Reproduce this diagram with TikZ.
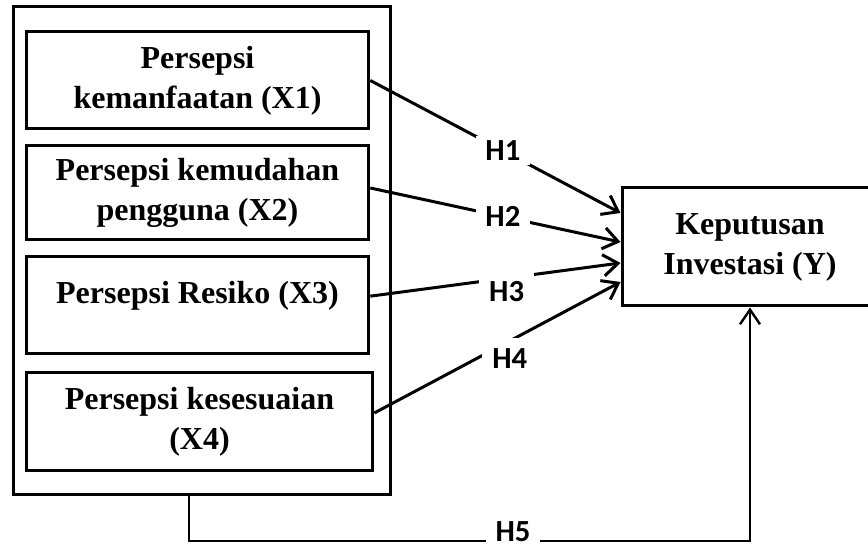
\documentclass[tikz,border=0pt]{standalone}
\usepackage{fontspec}
\setmainfont{Liberation Serif}
\newfontfamily\hfont{Carlito}
\usetikzlibrary{arrows.meta}

\begin{document}
\begin{tikzpicture}[line join=miter,x=0.75pt,y=-0.75pt,
	varbox/.style={draw,line width=2.25pt,minimum width=257pt,minimum height=72.75pt,inner sep=0pt,align=center,font=\fontsize{24}{30}\selectfont\bfseries},
	hyp/.style={line width=2.25pt,-{Straight Barb[length=11pt,width=16pt,line width=2.25pt]}},
	hfive/.style={line width=1.5pt,-{Straight Barb[length=11pt,width=15pt,line width=1.8pt]}},
	hlab/.style={fill=white,inner sep=0pt,minimum width=41pt,minimum height=22pt,font=\hfont\fontsize{23}{23}\selectfont\bfseries}]
	\useasboundingbox (0,0) rectangle (868,552);
	\clip (0,0) rectangle (868,552);
	% variabel bebas
	\node[varbox,minimum width=282.75pt,minimum height=365.25pt] (outer) at (201.5,250.5) {};
	\node[varbox] (x1) at (197.5,80.5) {Persepsi\\kemanfaatan (X1)};
	\node[varbox,minimum height=70.5pt] (x2) at (197.5,193) {Persepsi kemudahan\\pengguna (X2)};
	\node[varbox,text depth=20pt] (x3) at (197.5,305.5) {Persepsi Resiko (X3)};
	\node[varbox,minimum width=260pt] (x4) at (199.5,421.5) {Persepsi kesesuaian\\(X4)};
	% variabel terikat
	\node[varbox,minimum width=192pt,minimum height=88.5pt] (y) at (750,247) {Keputusan\\Investasi (Y)};
	% hipotesis
	\draw[hyp] (x1.east) -- node[hlab,pos=.53] (h1) {H1} ([yshift=25.5pt]y.west);
	\draw[hyp] ([yshift=3.75pt]x2.east) -- node[hlab,pos=.53] (h2) {H2} ([yshift=3.75pt]y.west);
	\draw[hyp] ([yshift=7pt]x3.east) -- node[hlab,pos=.545,anchor=north,yshift=6pt,minimum height=30pt] (h3) {H3} ([yshift=-12pt]y.west);
	\draw[hyp] ([yshift=6.4pt]x4.east) -- node[hlab,pos=.55,anchor=north,yshift=3pt,minimum height=30pt] (h4) {H4} ([yshift=-26.25pt]y.west);
	\draw[hfive] ([xshift=-9.4pt]outer.south) -- ++(0,45) -| (y.south);
	\node[hlab] (h5) at (513,532) {H5};
\end{tikzpicture}
\end{document}
